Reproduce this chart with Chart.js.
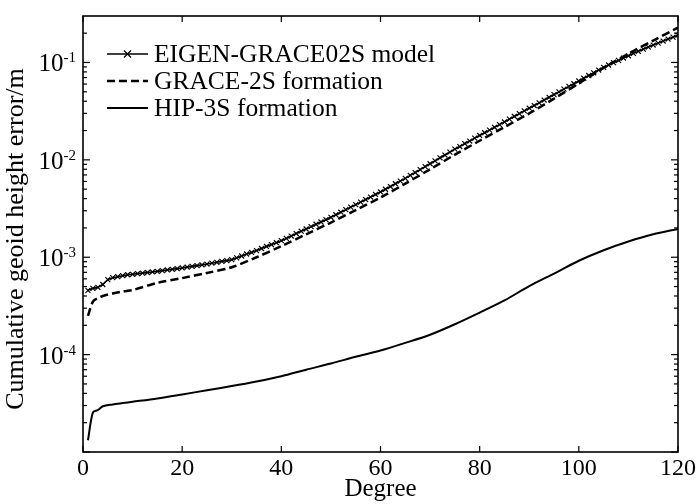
<!DOCTYPE html>
<html>
<head>
<meta charset="utf-8">
<script src="https://cdn.jsdelivr.net/npm/chart.js@4.4.0/dist/chart.umd.min.js"></script>
<style>
  html, body { margin: 0; padding: 0; background: #fff; }
  #graf { display: block; }
</style>
</head>
<body>
<canvas id="graf" width="700" height="504"></canvas>
<script>
// EIGEN-GRACE02S model, one marker per degree
const eigenDeg = [
  1, 2, 3, 4, 5, 6, 7, 8, 9, 10, 11, 12, 13, 14, 15, 16, 17, 18, 19, 20,
  21, 22, 23, 24, 25, 26, 27, 28, 29, 30, 31, 32, 33, 34, 35, 36, 37, 38, 39, 40,
  41, 42, 43, 44, 45, 46, 47, 48, 49, 50, 51, 52, 53, 54, 55, 56, 57, 58, 59, 60,
  61, 62, 63, 64, 65, 66, 67, 68, 69, 70, 71, 72, 73, 74, 75, 76, 77, 78, 79, 80,
  81, 82, 83, 84, 85, 86, 87, 88, 89, 90, 91, 92, 93, 94, 95, 96, 97, 98, 99, 100,
  101, 102, 103, 104, 105, 106, 107, 108, 109, 110, 111, 112, 113, 114, 115, 116, 117, 118, 119, 120
];
const eigenErr = [
  4.57e-4, 4.79e-4, 4.90e-4, 5.25e-4, 5.89e-4, 6.17e-4, 6.31e-4, 6.46e-4, 6.61e-4, 6.68e-4,
  6.78e-4, 6.87e-4, 6.97e-4, 7.06e-4, 7.16e-4, 7.28e-4, 7.40e-4, 7.52e-4, 7.64e-4, 7.76e-4,
  7.91e-4, 8.05e-4, 8.20e-4, 8.36e-4, 8.51e-4, 8.69e-4, 8.87e-4, 9.06e-4, 9.25e-4, 9.44e-4,
  9.86e-4, 1.03e-3, 1.08e-3, 1.12e-3, 1.17e-3, 1.23e-3, 1.29e-3, 1.35e-3, 1.41e-3, 1.48e-3,
  1.56e-3, 1.65e-3, 1.75e-3, 1.85e-3, 1.95e-3, 2.06e-3, 2.18e-3, 2.30e-3, 2.43e-3, 2.57e-3,
  2.73e-3, 2.90e-3, 3.08e-3, 3.27e-3, 3.47e-3, 3.68e-3, 3.91e-3, 4.15e-3, 4.41e-3, 4.68e-3,
  4.99e-3, 5.32e-3, 5.68e-3, 6.05e-3, 6.46e-3, 6.92e-3, 7.41e-3, 7.94e-3, 8.51e-3, 9.12e-3,
  9.77e-3, 1.05e-2, 1.12e-2, 1.20e-2, 1.29e-2, 1.37e-2, 1.47e-2, 1.56e-2, 1.67e-2, 1.78e-2,
  1.90e-2, 2.02e-2, 2.16e-2, 2.30e-2, 2.45e-2, 2.62e-2, 2.79e-2, 2.98e-2, 3.18e-2, 3.39e-2,
  3.61e-2, 3.85e-2, 4.11e-2, 4.39e-2, 4.68e-2, 4.99e-2, 5.32e-2, 5.68e-2, 6.05e-2, 6.46e-2,
  6.89e-2, 7.35e-2, 7.83e-2, 8.36e-2, 8.91e-2, 9.42e-2, 9.95e-2, 0.105, 0.111, 0.117,
  0.124, 0.130, 0.137, 0.144, 0.151, 0.158, 0.166, 0.174, 0.182, 0.191
];

// GRACE-2S formation
const graceDeg = [1, 2, 3, 4, 6, 8, 10, 15, 20, 25, 30, 35, 40, 45, 50, 55, 60, 65, 70, 75, 80, 85, 90, 95, 100, 105, 110, 115, 120];
const graceErr = [
  2.5e-4, 3.5e-4, 3.8e-4, 4.0e-4, 4.25e-4, 4.45e-4, 4.6e-4, 5.45e-4, 6.1e-4, 6.9e-4,
  7.9e-4, 1.0e-3, 1.3e-3, 1.72e-3, 2.27e-3, 3.05e-3, 4.1e-3, 5.7e-3, 8.0e-3, 1.13e-2,
  1.57e-2, 2.17e-2, 3.0e-2, 4.25e-2, 6.1e-2, 8.8e-2, 0.123, 0.168, 0.228
];

// HIP-3S formation
const hipDeg = [1, 2, 3, 4, 6, 8, 10, 15, 20, 25, 30, 35, 40, 45, 50, 55, 60, 65, 70, 75, 80, 85, 90, 95, 100, 105, 110, 115, 120];
const hipErr = [
  1.32e-5, 2.55e-5, 2.7e-5, 2.95e-5, 3.08e-5, 3.18e-5, 3.28e-5, 3.55e-5, 3.9e-5, 4.3e-5,
  4.75e-5, 5.3e-5, 6.0e-5, 7.0e-5, 8.1e-5, 9.5e-5, 1.1e-4, 1.32e-4, 1.6e-4, 2.05e-4,
  2.7e-4, 3.6e-4, 5.05e-4, 6.8e-4, 9.2e-4, 1.18e-3, 1.45e-3, 1.72e-3, 1.95e-3
];

const seriesNames = ['EIGEN-GRACE02S model', 'GRACE-2S formation', 'HIP-3S formation'];
const xTicks = [0, 20, 40, 60, 80, 100, 120];
const yLabelExp = [-4, -3, -2, -1];
const yMin = 1e-5, yMax = 0.3;

const serif = '"Liberation Serif", "Times New Roman", serif';

function pts(xs, ys) {
  return xs.map((d, i) => ({ x: d, y: ys[i] }));
}

// rammen, inåtriktade ticks, y-etiketter med exponent, titlar och legend
const ramen = {
  id: 'ramen',
  afterDraw(chart) {
    const { ctx, chartArea: a, scales: { x, y } } = chart;
    const ln = (x1, y1, x2, y2) => { ctx.beginPath(); ctx.moveTo(x1, y1); ctx.lineTo(x2, y2); ctx.stroke(); };
    ctx.save();
    ctx.strokeStyle = '#000';
    ctx.fillStyle = '#000';
    ctx.lineWidth = 1.6;
    ctx.strokeRect(a.left, a.top, a.right - a.left, a.bottom - a.top);

    ctx.lineWidth = 1.2;
    xTicks.forEach(v => {
      const px = x.getPixelForValue(v);
      ln(px, a.bottom, px, a.bottom - 6);
      ln(px, a.top, px, a.top + 6);
    });
    for (let e = -5; e <= -1; e++) {
      for (let m = 1; m <= 9; m++) {
        const v = m * Math.pow(10, e);
        if (v < yMin || v > yMax) continue;
        const py = y.getPixelForValue(v);
        const len = m === 1 ? 7 : 4;
        ln(a.left, py, a.left + len, py);
        ln(a.right, py, a.right - len, py);
      }
    }

    // y-etiketter 10^-n
    yLabelExp.forEach(e => {
      const py = y.getPixelForValue(Math.pow(10, e));
      const sup = String(e);
      ctx.font = '15px ' + serif;
      const sw = ctx.measureText(sup).width;
      const right = a.left - 7;
      ctx.textAlign = 'left';
      ctx.textBaseline = 'alphabetic';
      ctx.fillText(sup, right - sw, py);
      ctx.font = '25px ' + serif;
      ctx.textAlign = 'right';
      ctx.fillText('10', right - sw, py + 9);
    });

    // axeltitlar
    ctx.font = '25px ' + serif;
    ctx.textAlign = 'center';
    ctx.textBaseline = 'alphabetic';
    ctx.fillText('Degree', (a.left + a.right) / 2, 496);
    ctx.save();
    ctx.font = '26px ' + serif;
    ctx.translate(23, 239);
    ctx.rotate(-Math.PI / 2);
    ctx.fillText('Cumulative geoid height error/m', 0, 0);
    ctx.restore();

    // legend
    const rows = [54, 81, 108];
    const x0 = 107, x1 = 148;
    chart.data.datasets.forEach((ds, i) => {
      const ry = rows[i];
      ctx.lineWidth = ds.borderWidth;
      ctx.setLineDash(ds.borderDash || []);
      ln(x0, ry, x1, ry);
      ctx.setLineDash([]);
      if (ds.pointRadius > 0) {
        const cx = (x0 + x1) / 2, r = ds.pointRadius;
        ctx.lineWidth = 1.2;
        ln(cx - r, ry - r, cx + r, ry + r);
        ln(cx - r, ry + r, cx + r, ry - r);
      }
      ctx.font = '25.5px ' + serif;
      ctx.textAlign = 'left';
      ctx.textBaseline = 'middle';
      ctx.fillText(ds.label, 154, ry + 1);
    });
    ctx.restore();
  }
};

new Chart(document.getElementById('graf'), {
  type: 'line',
  data: {
    datasets: [
      {
        label: seriesNames[0],
        data: pts(eigenDeg, eigenErr),
        borderColor: '#000',
        borderWidth: 1.6,
        pointStyle: 'crossRot',
        pointRadius: 3.5,
        pointBorderWidth: 1.2,
        pointBorderColor: '#000',
        fill: false,
        tension: 0
      },
      {
        label: seriesNames[1],
        data: pts(graceDeg, graceErr),
        borderColor: '#000',
        borderWidth: 2.5,
        borderDash: [8, 4],
        pointRadius: 0,
        fill: false,
        tension: 0.3
      },
      {
        label: seriesNames[2],
        data: pts(hipDeg, hipErr),
        borderColor: '#000',
        borderWidth: 2,
        pointRadius: 0,
        fill: false,
        tension: 0.3
      }
    ]
  },
  options: {
    responsive: false,
    animation: false,
    devicePixelRatio: 1,
    layout: { padding: { left: 0, right: 22, top: 16, bottom: 0 } },
    plugins: {
      legend: { display: false },
      tooltip: { enabled: false }
    },
    scales: {
      x: {
        type: 'linear',
        min: 0,
        max: 120,
        grid: { display: false },
        border: { display: false },
        ticks: {
          stepSize: 20,
          color: '#000',
          padding: -6,
          font: { family: serif, size: 24 }
        },
        afterFit: s => { s.height = 52; }
      },
      y: {
        type: 'logarithmic',
        min: yMin,
        max: yMax,
        grid: { display: false },
        border: { display: false },
        ticks: { display: false },
        afterFit: s => { s.width = 83; }
      }
    }
  },
  plugins: [ramen]
});
</script>
</body>
</html>
